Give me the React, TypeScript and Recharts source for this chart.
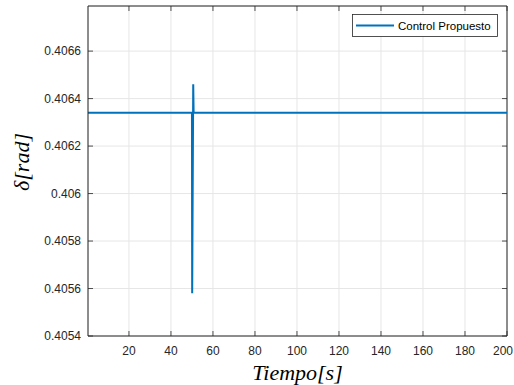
import { LineChart, Line, XAxis, YAxis, CartesianGrid, Legend, ReferenceLine } from 'recharts';

const tiempo = [0.5, 50.0, 50.1, 50.6, 50.8, 200];
const delta = [0.40634, 0.40634, 0.40558, 0.40646, 0.40634, 0.40634];

const xTicks = [20, 40, 60, 80, 100, 120, 140, 160, 180, 200];
const yTicks = [0.4054, 0.4056, 0.4058, 0.406, 0.4062, 0.4064, 0.4066];
const yLabels = ['0.4054', '0.4056', '0.4058', '0.406', '0.4062', '0.4064', '0.4066'];

const data = tiempo.map((t, i) => ({ t, v: delta[i] }));

const W = 514;
const H = 385;
const TOP = 6;
const BOTTOM = 336;
const LEFT = 88;
const RIGHT = 507;
const AXIS = '#262626';
const BLUE = '#0072BD';
const FONT = '"Liberation Sans", Arial, Helvetica, sans-serif';

const XTick = (props: any) => {
  const { x, y, payload, index } = props;
  const last = index === xTicks.length - 1;
  return (
    <g>
      <line x1={x} y1={y} x2={x} y2={y - 5} stroke={AXIS} strokeWidth={0.8} />
      <line x1={x} y1={TOP} x2={x} y2={TOP + 5} stroke={AXIS} strokeWidth={0.8} />
      <text
        x={last ? W - 1 : x}
        y={y + 19}
        textAnchor={last ? 'end' : 'middle'}
        fontSize={12}
        fill={AXIS}
        fontFamily={FONT}
      >
        {payload.value}
      </text>
    </g>
  );
};

const YTick = (props: any) => {
  const { x, y, payload, index } = props;
  return (
    <g>
      <line x1={x} y1={y} x2={x + 5} y2={y} stroke={AXIS} strokeWidth={0.8} />
      <line x1={RIGHT} y1={y} x2={RIGHT - 5} y2={y} stroke={AXIS} strokeWidth={0.8} />
      <text x={x - 7} y={y + 4} textAnchor="end" fontSize={12} fill={AXIS} fontFamily={FONT}>
        {yLabels[index] ?? payload.value}
      </text>
    </g>
  );
};

const LegendBox = () => (
  <svg width={146} height={23} style={{ display: 'block' }}>
    <rect x={0.5} y={0.5} width={145} height={22} fill="#fff" stroke={AXIS} strokeWidth={0.8} />
    <line x1={4} y1={11.5} x2={42} y2={11.5} stroke={BLUE} strokeWidth={2} />
    <text x={46} y={15.5} fontSize={11.5} fill="#000" fontFamily={FONT}>
      Control Propuesto
    </text>
  </svg>
);

export default function App() {
  return (
    <div style={{ position: 'fixed', left: 0, top: 0, width: W, height: H, background: '#fff' }}>
      <LineChart
        width={W}
        height={H}
        data={data}
        margin={{ top: TOP, right: W - RIGHT, bottom: 0, left: 0 }}
      >
        <CartesianGrid stroke="#e6e6e6" strokeWidth={1} />
        <XAxis
          dataKey="t"
          type="number"
          domain={[0.5, 200]}
          ticks={xTicks}
          allowDataOverflow
          height={H - BOTTOM}
          stroke={AXIS}
          tickSize={0}
          tickMargin={0}
          tickLine={false}
          tick={<XTick />}
          interval={0}
        />
        <YAxis
          type="number"
          domain={[0.4054, 0.40679]}
          ticks={yTicks}
          allowDataOverflow
          width={LEFT}
          stroke={AXIS}
          tickSize={0}
          tickMargin={0}
          tickLine={false}
          tick={<YTick />}
          interval={0}
        />
        <ReferenceLine y={0.40679} stroke={AXIS} strokeWidth={1} />
        <ReferenceLine x={200} stroke={AXIS} strokeWidth={1} />
        <Line
          type="linear"
          dataKey="v"
          name="Control Propuesto"
          stroke={BLUE}
          strokeWidth={2}
          dot={false}
          activeDot={false}
          isAnimationActive={false}
        />
        <Legend
          layout="vertical"
          align="center"
          verticalAlign="middle"
          content={<LegendBox />}
          wrapperStyle={{ position: 'absolute', left: 352, top: 14, width: 146, height: 23 }}
        />
      </LineChart>
      <div
        style={{
          position: 'absolute',
          left: 0,
          top: 0,
          width: W,
          height: H,
          pointerEvents: 'none',
        }}
      >
        <svg width={W} height={H}>
          <text
            x={(LEFT + RIGHT) / 2}
            y={380}
            textAnchor="middle"
            fontSize={22}
            fontStyle="italic"
            fontFamily='"Liberation Serif", "DejaVu Serif", serif'
            fill="#000"
          >
            Tiempo[s]
          </text>
          <text
            transform="translate(29, 162) rotate(-90)"
            textAnchor="middle"
            fontSize={22}
            fontStyle="italic"
            fontFamily='"Liberation Serif", "DejaVu Serif", serif'
            fill="#000"
          >
            δ[rad]
          </text>
        </svg>
      </div>
    </div>
  );
}
